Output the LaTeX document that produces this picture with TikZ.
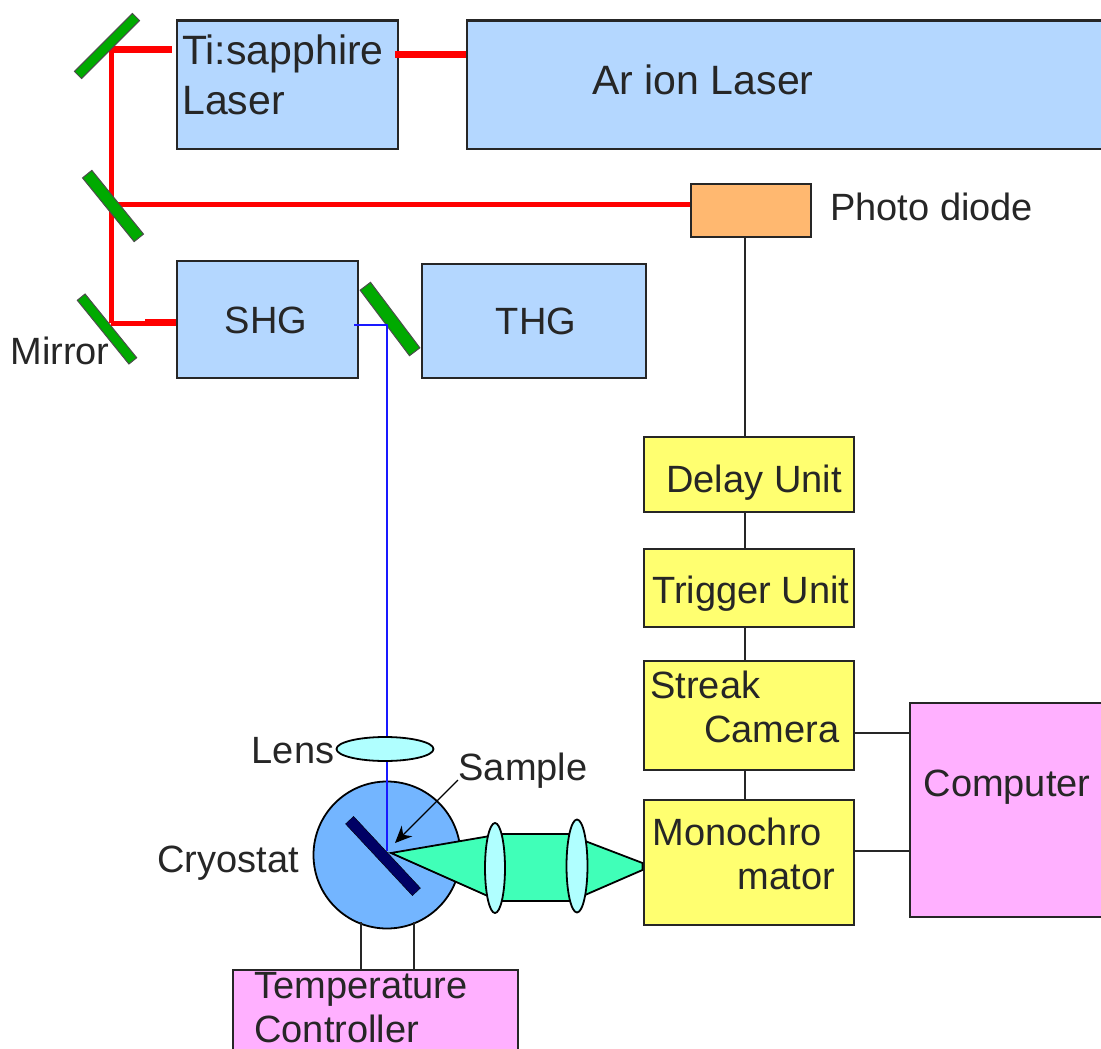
\documentclass[tikz,border=0pt]{standalone}
\usepackage{fontspec}
\setmainfont{Liberation Sans}
\usetikzlibrary{
  arrows.meta,
  shapes.geometric,
  calc
}
\definecolor{laserblue}{RGB}{180,215,255}
\definecolor{cryoblue}{RGB}{115,181,255}
\definecolor{unityellow}{RGB}{255,255,112}
\definecolor{ctrlpink}{RGB}{255,176,255}
\definecolor{diodeorange}{RGB}{255,184,112}
\definecolor{mirrorgreen}{RGB}{0,170,0}
\definecolor{lenscyan}{RGB}{176,255,255}
\definecolor{beamgreen}{RGB}{64,255,184}
\definecolor{samplenavy}{RGB}{0,0,100}
\tikzset{
  unitbox/.style={
    draw=black!85, line width=2.4pt, anchor=north west,
    xshift=-1.5pt, yshift=1.5pt, inner sep=0pt, align=center,
    text=black!85, font=\fontsize{38}{44}\selectfont
  },
  laserbox/.style={unitbox, fill=laserblue},
  yellowbox/.style={unitbox, fill=unityellow, minimum width=210pt},
  pinkbox/.style={unitbox, fill=ctrlpink},
  boxtext/.style={
    inner sep=0pt, align=left,
    font=\fontsize{38}{44}\selectfont, text=black!85
  },
  bigtext/.style={boxtext, font=\fontsize{41}{50}\selectfont},
  mirrorbar/.style={
    draw=black!70, line width=1pt, fill=mirrorgreen,
    inner sep=0pt, minimum width=82pt
  },
  lensbody/.style={
    ellipse, draw=black, line width=1.8pt, fill=lenscyan, inner sep=0pt
  },
  redbeam/.style={draw=red, line width=5pt},
  bluebeam/.style={draw=blue!90, line width=1.8pt},
  wire/.style={draw=black!85, line width=2.4pt},
}

\begin{document}
\begin{tikzpicture}[x=1pt, y=-1pt]
  \useasboundingbox (0,0) rectangle (1101,1049);

  %% Lasers
  \node[laserbox, minimum width=221pt, minimum height=128pt] (ti) at (177,21) {};
  \node[laserbox, minimum width=640pt, minimum height=128pt] (ar) at (467,21) {};
  \node[bigtext] (titext) at (283,75) {Ti:sapphire\\Laser};
  \node[bigtext] (artext) at (703,80) {Ar ion Laser};

  %% Harmonic generators
  \node[laserbox, minimum width=181pt, minimum height=117pt] (shg) at (177,261) {};
  \node[boxtext] (shgtext) at (266,320) {SHG};
  \node[laserbox, minimum width=224pt, minimum height=114pt] (thg) at (422,264) {};
  \node[boxtext] (thgtext) at (536,321) {THG};

  %% Detection chain
  \node[unitbox, fill=diodeorange, minimum width=120pt, minimum height=53pt] (diode) at (691,184) {};
  \node[boxtext, anchor=west] (diodetext) at (830,207) {Photo diode};
  \node[yellowbox, minimum height=75pt] (delay) at (644,437) {};
  \node[boxtext] (delaytext) at (754,483) {Delay Unit};
  \node[yellowbox, minimum height=78pt] (trigger) at (644,549) {};
  \node[boxtext] (triggertext) at (751,594) {Trigger Unit};
  \node[yellowbox, minimum height=109pt] (streak) at (644,661) {};
  \node[boxtext] (streaktext) at (745,707) {Streak\\\hspace{54pt}Camera};
  \node[yellowbox, minimum height=125pt] (mono) at (644,800) {};
  \node[boxtext] (monotext) at (744,854) {Monochro\\\hspace{85pt}mator};
  \node[pinkbox, minimum width=194pt, minimum height=214pt] (computer) at (910,703) {};
  \node[boxtext] (computertext) at (1007,787) {Computer};

  %% Cryostat and controller
  \node[pinkbox, minimum width=285pt, minimum height=95pt] (temp) at (233,970) {};
  \node[boxtext] (temptext) at (361,1008) {Temperature\\Controller};
  \node[circle, draw=black, line width=1.8pt, fill=cryoblue, minimum size=147pt, inner sep=0pt] (cryo) at (387,855) {};
  \node[boxtext] (cryotext) at (228,863) {Cryostat};

  %% Wires
  \draw[wire] (diode.south -| 745,0) -- (delay.north -| 745,0);
  \draw[wire] (delay.south -| 745,0) -- (trigger.north -| 745,0);
  \draw[wire] (trigger.south -| 745,0) -- (streak.north -| 745,0);
  \draw[wire] (streak.south -| 745,0) -- (mono.north -| 745,0);
  \draw[wire] (streak.east |- 0,733) -- (computer.west |- 0,733);
  \draw[wire] (mono.east |- 0,851) -- (computer.west |- 0,851);
  \draw[wire] (temp.north -| 361,0) -- (361,922);
  \draw[wire] (temp.north -| 414,0) -- (414,922);

  %% Laser beams
  \coordinate (top) at (111,50);
  \coordinate (mid) at (111,204);
  \coordinate (low) at (111,323);
  \draw[redbeam] (top) -- (low);
  \draw[redbeam, line width=7pt] (top) -- (172,50);
  \draw[redbeam, line width=7pt] (395,55) -- (ar.west |- 0,55);
  \draw[redbeam] (mid) -- (diode.west |- mid);
  \draw[redbeam] (low) -- (shg.west |- low);
  \draw[redbeam, line width=6.5pt] (145,322) -- (shg.west |- 0,322);

  %% Mirrors
  \node[mirrorbar, rotate=45, minimum height=10pt] (m1) at (107,46) {};
  \node[mirrorbar, rotate=-51, minimum height=12pt] (m2) at (113,206) {};
  \node[mirrorbar, rotate=-51, minimum height=10pt] (m3) at (107,329) {};
  \node[mirrorbar, rotate=-53, minimum height=13pt] (m4) at (390,319) {};
  \node[boxtext] (mirrortext) at (60,351) {Mirror};

  %% Pump path
  \coordinate (turn) at (387,325);
  \draw[bluebeam] (354,325) -- (turn) -- (387,851);
  \node[lensbody, minimum width=97pt, minimum height=24pt] (lens) at (385,749) {};
  \node[boxtext] (lenstext) at (293,751) {Lens};

  %% Sample and emission
  \node[draw=black, fill=samplenavy, inner sep=0pt, minimum width=98pt, minimum height=11pt, rotate=-47] (sample) at (383,856) {};
  \node[boxtext] (sampletext) at (523,771) {Sample};
  \draw[-{Stealth[length=17pt,width=15pt]}, draw=black, line width=1.2pt] (458,780) -- (395,843);

  \draw[draw=black, line width=1.8pt, fill=beamgreen] (391,853) -- (490,836) -- (490,897) -- cycle;
  \draw[draw=black, line width=1.8pt, fill=beamgreen] (500,834) rectangle (572,901);
  \draw[draw=black, line width=1.8pt, fill=beamgreen] (585,841) -- (mono.west |- 0,863) -- (mono.west |- 0,870) -- (585,895) -- cycle;
  \node[lensbody, minimum width=20pt, minimum height=90pt] (lens1) at (495,868) {};
  \node[lensbody, minimum width=21pt, minimum height=93pt] (lens2) at (577,866) {};

\end{tikzpicture}
\end{document}
